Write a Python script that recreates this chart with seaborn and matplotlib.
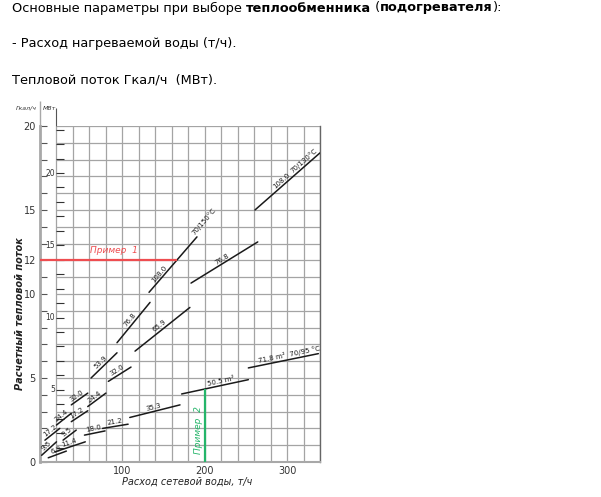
import numpy as np
import pandas as pd
import matplotlib
matplotlib.use('Agg')
import matplotlib.pyplot as plt
import seaborn as sns

sns.set_theme(style="white")
plt.rcParams['font.family'] = ['DejaVu Sans']

W, H = 601, 497

# Segments of the nomogram: water flow (t/h) -> heat flow (Gcal/h)
# 70/150 °C
s150_x0 = [2, 6, 20, 38, 62, 93.5, 132.4]
s150_x1 = [20, 24, 38, 58, 93.5, 133.6, 190.6]
s150_y0 = [0.4, 1.3, 2.2, 3.4, 5.0, 7.1, 10.1]
s150_y1 = [1.2, 2.0, 2.9, 4.1, 6.5, 9.5, 13.4]
s150_lbl = ["9.5", "17.2", "24.4", "32.0", "53.9", "76.8", "108.0"]

# 70/130 °C
s130_x0 = [28, 38, 58, 83, 115.4, 183.4, 261]
s130_x1 = [44, 58, 80, 110.5, 182, 264.4, 340]
s130_y0 = [1.3, 2.4, 3.3, 4.8, 6.6, 10.65, 15.0]
s130_y1 = [1.9, 3.05, 4.1, 5.65, 9.2, 13.1, 18.4]
s130_lbl = ["9.5", "17.2", "24.4", "32.0", "65.9", "76.8", "108.0"]

# 70/95 °C
s95_x0 = [10, 18, 54, 76, 109, 172, 253]
s95_x1 = [32, 55, 79, 107, 170, 253, 338]
s95_y0 = [0.25, 0.6, 1.6, 2.0, 2.65, 4.05, 5.6]
s95_y1 = [0.65, 1.2, 1.85, 2.25, 3.4, 4.9, 6.45]
s95_lbl = ["6.3", "11.4", "18.0", "21.2", "35.3", "50.5 m²", "71.8 m²  70/95 °C"]

# worked examples
ex1_q = 12.0      # Gcal/h
ex1_g = 166       # t/h where it meets the 70/150 line
ex2_g = 200       # t/h
ex2_q = 4.33      # Gcal/h

gcal_ticks = [0, 5, 10, 12, 15, 20]
mw_labels = [5, 10, 15, 20]
x_ticks = [100, 200, 300]

rows = []
seg = 0
for xs0, xs1, ys0, ys1 in [(s150_x0, s150_x1, s150_y0, s150_y1),
                           (s130_x0, s130_x1, s130_y0, s130_y1),
                           (s95_x0, s95_x1, s95_y0, s95_y1)]:
    for a, b, c, d in zip(xs0, xs1, ys0, ys1):
        rows.append({'seg': seg, 'x': a, 'y': c})
        rows.append({'seg': seg, 'x': b, 'y': d})
        seg += 1
df = pd.DataFrame(rows)

fig = plt.figure(figsize=(W / 100, H / 100), dpi=100)
ax = fig.add_axes([40 / W, (H - 462) / H, 280 / W, 336 / H])
ax.set_xlim(0, 340)
ax.set_ylim(0, 20)

grid_c = '#a4a4a4'
ax.vlines(np.arange(20, 341, 20), 0, 20, color=grid_c, lw=0.9, zorder=1)
ax.hlines(np.arange(1, 21, 1), 20, 340, color=grid_c, lw=0.9, zorder=1)

sns.lineplot(data=df, x='x', y='y', units='seg', estimator=None, sort=False,
             color='#1a1a1a', lw=1.1, ax=ax, legend=False, zorder=3)
ax.set_xlabel('')
ax.set_ylabel('')

# examples
ax.hlines(ex1_q, 0, ex1_g, color='#ee4d50', lw=1.6, zorder=4, clip_on=False)
ax.text(90, ex1_q + 0.35, 'Пример  1', color='#ee4d50', fontsize=6.5,
        style='italic', ha='center', va='bottom')
ax.vlines(ex2_g, 0, ex2_q, color='#25b56a', lw=1.6, zorder=4)
ax.text(192, 1.9, 'Пример  2', color='#25b56a', fontsize=6.5,
        style='italic', ha='center', va='center', rotation=90)


def seg_label(x0, y0, x1, y1, txt, f=0.5, off=1.0):
    p0 = ax.transData.transform((x0, y0))
    p1 = ax.transData.transform((x1, y1))
    ang = np.arctan2(p1[1] - p0[1], p1[0] - p0[0])
    xm = x0 + f * (x1 - x0)
    ym = y0 + f * (y1 - y0)
    ax.annotate(txt, (xm, ym), xytext=(-np.sin(ang) * off, np.cos(ang) * off),
                textcoords='offset points', rotation=np.degrees(ang),
                rotation_mode='anchor', ha='center', va='bottom',
                fontsize=5, color='#1a1a1a', zorder=5)


for i, t in enumerate(s150_lbl):
    f = 0.28 if i == 6 else 0.5
    seg_label(s150_x0[i], s150_y0[i], s150_x1[i], s150_y1[i], t, f)
seg_label(s150_x0[6], s150_y0[6], s150_x1[6], s150_y1[6], '70/150°C', 1.22)

for i, t in enumerate(s130_lbl):
    f = 0.45 if i == 6 else 0.5
    seg_label(s130_x0[i], s130_y0[i], s130_x1[i], s130_y1[i], t, f)
seg_label(s130_x0[6], s130_y0[6], s130_x1[6], s130_y1[6], '70/130°C', 0.8)

for i, t in enumerate(s95_lbl):
    f = 0.6 if i >= 5 else 0.5
    seg_label(s95_x0[i], s95_y0[i], s95_x1[i], s95_y1[i], t, f)

# axes decoration
ax.spines['top'].set_visible(False)
ax.spines['left'].set_color('#a8a8a8')
ax.spines['left'].set_linewidth(2)
ax.spines['bottom'].set_color('#a8a8a8')
ax.spines['bottom'].set_linewidth(1.5)
ax.spines['right'].set_color('#666666')
ax.spines['right'].set_linewidth(1.0)
ax.spines['right'].set_linestyle((0, (2, 1)))

ax.set_yticks(gcal_ticks)
ax.set_yticks(np.arange(0, 21, 1), minor=True)
ax.tick_params(axis='y', which='both', direction='in', length=5, width=0.8,
               color='#555555', labelsize=7, pad=3, left=True)
ax.set_xticks(x_ticks)
ax.tick_params(axis='x', length=0, labelsize=7, pad=3, labelcolor='#333333')
ax.tick_params(axis='y', labelcolor='#333333')

# second (MW) scale on the 20 t/h line
mw = np.arange(1, 24)
ax.hlines(mw * 0.86, 20, 29.7, color='#333333', lw=0.8, zorder=2)
for m in mw_labels:
    ax.text(18.2, m * 0.86, str(m), fontsize=5.5, ha='right', va='center',
            color='#333333')

# scale heads
ax.vlines([0], 20, 21.5, color='#a8a8a8', lw=1.0, clip_on=False)
ax.vlines([20], 20, 21.1, color='#555555', lw=0.8, clip_on=False)
fig.text(26 / W, 1 - 108 / H, 'Гкал/ч', fontsize=4.5, style='italic',
         ha='center', va='center', color='#333333')
fig.text(49 / W, 1 - 108 / H, 'МВт', fontsize=4.5, style='italic',
         ha='center', va='center', color='#333333')

fig.text(20 / W, 1 - 314 / H, 'Расчетный тепловой поток', fontsize=7,
         fontweight='bold', style='italic', rotation=90, ha='center',
         va='center', color='#222222')
fig.text(187 / W, 1 - 482 / H, 'Расход сетевой воды, т/ч', fontsize=7,
         style='italic', ha='center', va='center', color='#222222')

# header text
renderer = fig.canvas.get_renderer()


def header(parts, x, y, size=9.3):
    cur = x
    for txt, w in parts:
        t = fig.text(cur / W, 1 - y / H, txt, fontsize=size, fontweight=w,
                     ha='left', va='center', color='black')
        bb = t.get_window_extent(renderer)
        cur += bb.width


header([("Основные параметры при выборе ", 'normal'), ("теплообменника", 'bold'),
        (" (", 'normal'), ("подогревателя", 'bold'), ("):", 'normal')], 12, 8)
header([("- Расход нагреваемой воды (т/ч).", 'normal')], 12, 44)
header([("Тепловой поток Гкал/ч  (МВт).", 'normal')], 12, 80)

fig.savefig('out.png', dpi=100)
